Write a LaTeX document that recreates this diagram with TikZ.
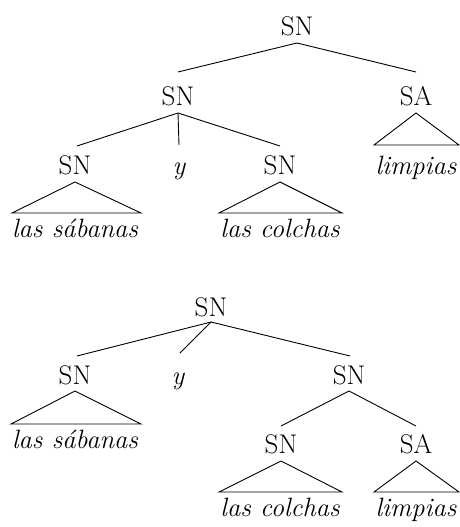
\documentclass[tikz,border=0pt]{standalone}
\begin{document}
\begin{tikzpicture}[x=1pt,y=-1pt,
  lab/.style={anchor=base,inner sep=0pt,font=\fontsize{27}{32}\selectfont},
  leaf/.style={anchor=base,inner sep=0pt,font=\fontsize{26.5}{32}\selectfont\itshape},
  edge/.style={line width=0.9pt}]
\useasboundingbox (0,0) rectangle (460,527);
% ---------- top tree ----------
\node[lab] (a) at (297,36) {SN};
\node[lab] (b) at (178,105) {SN};
\node[lab] (c) at (416,105) {SA};
\node[lab] (d) at (75,174) {SN};
\node[leaf] (e) at (179,174) {y};
\node[lab] (f) at (280,174) {SN};
\node[leaf] (g) at (416,174) {limpias};
\node[leaf] (h) at (75,237) {las sábanas};
\node[leaf] (i) at (280,237) {las colchas};
\draw[edge] ([yshift=-7pt]a.base) -- ([yshift=33pt]b.base);
\draw[edge] ([yshift=-7pt]a.base) -- ([yshift=33pt]c.base);
\draw[edge] ([yshift=-8pt]b.base) -- ([xshift=2pt,yshift=28pt]d.base);
\draw[edge] ([yshift=-8pt]b.base) -- ([xshift=0pt,yshift=29pt]e.base);
\draw[edge] ([yshift=-8pt]b.base) -- ([yshift=28pt]f.base);
\draw[edge] ([yshift=-8pt]c.base) -- ([xshift=-42pt,yshift=29pt]g.base) -- ([xshift=43pt,yshift=29pt]g.base) -- cycle;
\draw[edge] ([yshift=-8pt]d.base) -- ([xshift=-63pt,yshift=24pt]h.base) -- ([xshift=66pt,yshift=24pt]h.base) -- cycle;
\draw[edge] ([yshift=-8pt]f.base) -- ([xshift=-61pt,yshift=24pt]i.base) -- ([xshift=62pt,yshift=24pt]i.base) -- cycle;
% ---------- bottom tree ----------
\node[lab] (A) at (211,316) {SN};
\node[lab] (B) at (75,384) {SN};
\node[leaf] (Y) at (178,384) {y};
\node[lab] (C) at (349,384) {SN};
\node[leaf] (H) at (75,448) {las sábanas};
\node[lab] (D) at (281,453) {SN};
\node[lab] (E) at (416,453) {SA};
\node[leaf] (I) at (280,516) {las colchas};
\node[leaf] (G) at (416,516) {limpias};
\draw[edge] ([yshift=-6pt]A.base) -- ([xshift=2pt,yshift=28pt]B.base);
\draw[edge] ([yshift=-6pt]A.base) -- ([xshift=2pt,yshift=31pt]Y.base);
\draw[edge] ([yshift=-6pt]A.base) -- ([xshift=1pt,yshift=28pt]C.base);
\draw[edge] ([yshift=-7pt]B.base) -- ([xshift=-64pt,yshift=24pt]H.base) -- ([xshift=66pt,yshift=24pt]H.base) -- cycle;
\draw[edge] ([yshift=-7pt]C.base) -- ([yshift=27pt]D.base);
\draw[edge] ([yshift=-7pt]C.base) -- ([yshift=27pt]E.base);
\draw[edge] ([yshift=-8pt]D.base) -- ([xshift=-61pt,yshift=24pt]I.base) -- ([xshift=62pt,yshift=24pt]I.base) -- cycle;
\draw[edge] ([yshift=-8pt]E.base) -- ([xshift=-42pt,yshift=24pt]G.base) -- ([xshift=43pt,yshift=24pt]G.base) -- cycle;
\end{tikzpicture}
\end{document}
